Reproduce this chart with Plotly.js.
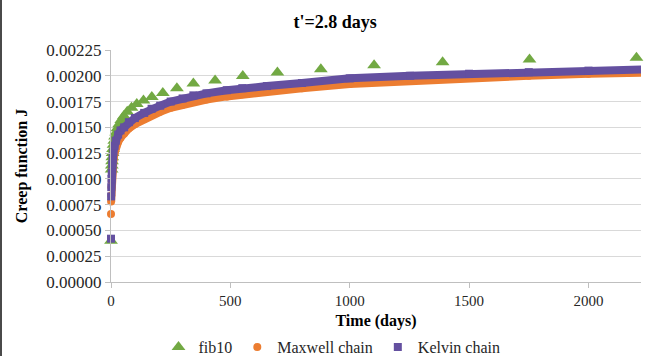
<!DOCTYPE html>
<html>
<head>
<meta charset="utf-8">
<script src="https://cdn.plot.ly/plotly-3.0.1.min.js"></script>
<style>
html,body{margin:0;padding:0;background:#fff;}
#wrap{position:relative;width:651px;height:356px;}
#chart{position:absolute;left:0;top:0;width:651px;height:356px;}
#edge{position:absolute;left:0;top:0;width:2px;height:356px;background:#4a4a4a;}
</style>
</head>
<body>
<div id="wrap"><div id="chart"></div><div id="edge"></div></div>
<script>
// ---- data ----
const fibT = [0, 2.7, 3.4, 4.3, 5.4, 6.7, 8.5, 10.7, 13.5, 17, 21.5, 27, 34, 43, 54, 68, 86,
  108, 136, 171, 217, 276, 345, 436, 552, 697, 879, 1102, 1389, 1753, 2201];
const fibJ = [0.00040, 0.00109, 0.00113, 0.00117, 0.00121, 0.00125, 0.00129, 0.00133, 0.00137, 0.00141, 0.00145, 0.00149, 0.00153, 0.00157, 0.00161, 0.00165, 0.00169,
  0.001727, 0.001761, 0.001793, 0.001832, 0.001878, 0.001926, 0.001953, 0.001999, 0.002031, 0.002064, 0.002103, 0.002132, 0.002157, 0.002176];

const chainT = [0, 0.5, 1, 2, 3, 5, 7, 10, 15, 20, 30, 40, 55, 75, 100, 139, 170, 206, 250, 300, 345,
  400, 485, 550, 653, 800, 1000, 1253, 1500, 1750, 2000, 2223];
const maxwellJ = [0.00066, 0.00078, 0.00084, 0.00092, 0.00098, 0.00106, 0.00112, 0.00118, 0.00125, 0.00130, 0.00136, 0.00140, 0.00144, 0.00149, 0.00153, 0.00158, 0.00162, 0.00165, 0.00169, 0.00172, 0.00175,
  0.00177, 0.00180, 0.00182, 0.00185, 0.00188, 0.00192, 0.00195, 0.00198, 0.00200, 0.00202, 0.00203];
const kelvinJ = [0.00042, 0.00083, 0.00092, 0.00100, 0.00106, 0.00114, 0.00120, 0.00126, 0.00132, 0.00137, 0.00143, 0.00147, 0.00150, 0.00155, 0.00159, 0.00164, 0.00168, 0.00171, 0.00175, 0.00178, 0.00181,
  0.00183, 0.00186, 0.00188, 0.00190, 0.00193, 0.001975, 0.00200, 0.00202, 0.002035, 0.00205, 0.00206];

const xTicks = [0, 500, 1000, 1500, 2000];
const seriesNames = ['fib10', 'Maxwell chain', 'Kelvin chain'];
// ---------------------------------------------

const GREEN = '#72a943', ORANGE = '#ec7d31', PURPLE = '#6450a0';
const serif = "Liberation Serif";

const traces = [
  {x: fibT, y: fibJ, name: seriesNames[0], type: 'scatter', mode: 'markers', cliponaxis: false,
   marker: {symbol: 'triangle-up', size: 12, color: GREEN}},
  {x: chainT.slice(1), y: maxwellJ.slice(1), type: 'scatter', mode: 'lines', showlegend: false, hoverinfo: 'skip',
   cliponaxis: false, line: {color: ORANGE, width: 8}},
  {x: chainT, y: maxwellJ, name: seriesNames[1], type: 'scatter', mode: 'markers', cliponaxis: false,
   marker: {symbol: 'circle', size: 8, color: ORANGE}},
  {x: chainT.slice(1), y: kelvinJ.slice(1), type: 'scatter', mode: 'lines', showlegend: false, hoverinfo: 'skip',
   cliponaxis: false, line: {color: PURPLE, width: 8}},
  {x: chainT, y: kelvinJ, name: seriesNames[2], type: 'scatter', mode: 'markers', cliponaxis: false,
   marker: {symbol: 'square', size: 8, color: PURPLE}}
];

const layout = {
  width: 651, height: 356,
  margin: {l: 111, r: 10, t: 50, b: 74},
  paper_bgcolor: '#ffffff', plot_bgcolor: '#ffffff',
  font: {family: serif, color: '#262626', size: 14},
  title: {text: "<b>t'=2.8 days</b>", x: 0.515, xanchor: 'center', y: 0.94, yanchor: 'middle',
          font: {family: serif, size: 18, color: '#000'}},
  xaxis: {
    range: [0, 2220], tickvals: xTicks, ticktext: xTicks.map(String), automargin: false,
    showgrid: false, zeroline: false, showline: true, linecolor: '#bfbfbf', linewidth: 1,
    ticks: 'outside', ticklen: 5, tickcolor: '#bfbfbf',
    tickfont: {family: serif, size: 15, color: '#262626'},
    title: {text: '<b>Time (days)</b>', font: {family: serif, size: 16, color: '#000'}}
  },
  yaxis: {
    range: [0, 0.00225], dtick: 0.00025, tick0: 0, tickformat: '.5f', automargin: true,
    showgrid: true, gridcolor: '#d9d9d9', gridwidth: 1, zeroline: false,
    showline: true, linecolor: '#bfbfbf', linewidth: 1,
    ticks: 'outside', ticklen: 5, tickcolor: '#bfbfbf',
    tickfont: {family: serif, size: 17, color: '#262626'},
    title: {text: '<b>Creep function J</b>', standoff: 14, font: {family: serif, size: 16, color: '#000'}}
  },
  legend: {orientation: 'h', x: 0.51, xref: 'container', xanchor: 'center', y: 0.025, yref: 'container', yanchor: 'middle',
           font: {family: serif, size: 16, color: '#262626'}, itemwidth: 30, tracegroupgap: 0,
           bgcolor: 'rgba(0,0,0,0)'},
  showlegend: true
};

Plotly.newPlot('chart', traces, layout, {displayModeBar: false, staticPlot: true});
</script>
</body>
</html>
